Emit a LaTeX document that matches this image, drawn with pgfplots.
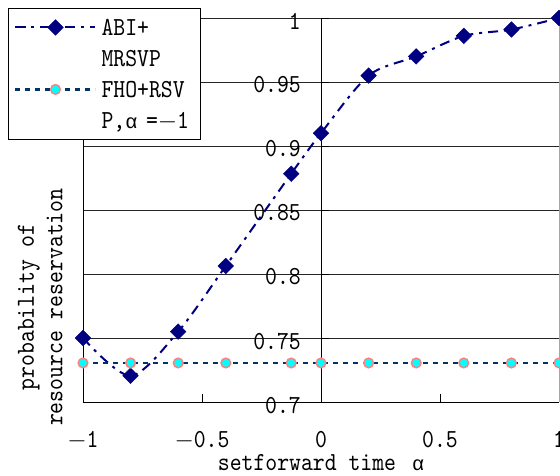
\documentclass[border=0pt]{standalone}
\usepackage{fontspec}
\usepackage{pgfplots}
\pgfplotsset{compat=1.18}
\newfontfamily\gr{Liberation Mono}
\newfontfamily\mono{lmmono10-regular.otf}[FakeStretch=0.87]
\definecolor{navyA}{RGB}{0,0,128}
\definecolor{navyB}{RGB}{0,51,102}
\definecolor{cyanF}{RGB}{0,255,255}
\definecolor{salmonE}{RGB}{255,128,128}
\newcommand{\ff}{\mono\fontsize{26}{28.5}\selectfont}
\newcommand{\al}{{\gr\fontsize{20}{24}\selectfont α}}
\begin{document}
\begin{tikzpicture}
\begin{axis}[
  scale only axis, width=476pt, height=384pt,
  xmin=-1, xmax=1, ymin=0.7, ymax=1,
  axis x line=bottom, axis y line=middle,
  axis line style={-, black, line width=0.8pt},
  hide obscured x ticks=false, hide obscured y ticks=false,
  xtick={-1,-0.5,0,0.5,1}, xticklabels={$-$1,$-$0.5,0,0.5,1},
  ytick={0.7,0.75,0.8,0.85,0.9,0.95,1},
  yticklabels={0.7,0.75,0.8,0.85,0.9,0.95,1},
  ymajorgrids, grid style={black!85, line width=0.6pt},
  tick style={black, line width=0.6pt}, major tick length=8pt,
  tick align=inside,
  ticklabel style={font=\ff},
  xticklabel style={anchor=north, inner sep=0pt, yshift=-29pt},
  yticklabel style={anchor=east, inner sep=0pt, xshift=-20pt, yshift=-3pt},
  every axis y label/.style={at={(axis description cs:-0.09,0.247)}, rotate=90, anchor=center, align=center, font=\ff},
  every axis x label/.style={at={(axis description cs:0.5,0)}, anchor=north, inner sep=0pt, yshift=-52.5pt, font=\ff},
  xlabel={setforward time\hspace{16pt}\al},
  ylabel={probability of\\resource reservation},
  clip=false,
  legend style={at={(axis description cs:-0.1576,1.026)}, anchor=north west, draw=black, line width=0.8pt, fill=white, inner xsep=6pt, inner ysep=5pt, row sep=3pt, font=\ff, cells={anchor=base west}, nodes={inner xsep=5pt, inner ysep=2pt, text height=20pt, text depth=4pt}},
  legend image code/.code={\draw[mark repeat=2,mark phase=2, yshift=8pt] plot coordinates {(0pt,0pt)(40pt,0pt)(80pt,0pt)};},
]
\draw[black, line width=0.8pt] (rel axis cs:0,0) -- (rel axis cs:0,1);
\draw[gray!70, line width=0.8pt] (rel axis cs:1,0) -- (rel axis cs:1,1);
\addplot[navyA, line width=2pt, dash pattern=on 10pt off 6pt on 3pt off 6pt, smooth, tension=0.5,
  mark=square*, mark size=5.5pt, mark options={solid, rotate=45, fill=navyA, draw=navyA, line width=0.5pt}]
  coordinates {(-1,0.750) (-0.8,0.7205) (-0.6,0.755) (-0.4,0.8063) (-0.125,0.8784) (0,0.910) (0.2,0.955) (0.4,0.970) (0.6,0.986) (0.8,0.991) (1,1.0)};
\addlegendentry{ABI+}
\addlegendimage{empty legend}
\addlegendentry{MRSVP}
\addplot[navyB, line width=2.2pt, dash pattern=on 5pt off 5pt,
  mark=*, mark size=4.8pt, mark options={solid, fill=cyanF, draw=salmonE, line width=1.5pt}]
  coordinates {(-1,0.7305) (-0.8,0.7305) (-0.6,0.7305) (-0.4,0.7305) (-0.125,0.7305) (0,0.7305) (0.2,0.7305) (0.4,0.7305) (0.6,0.7305) (0.8,0.7305) (1,0.7305)};
\addlegendentry{FHO+RSV}
\addlegendimage{empty legend}
\addlegendentry{P,\al\,\,=$-$1}
\end{axis}
\pgfresetboundingbox
\path ([shift={(-83pt,-74pt)}]current axis.south west) rectangle ([shift={(1pt,18pt)}]current axis.north east);
\end{tikzpicture}
\end{document}
